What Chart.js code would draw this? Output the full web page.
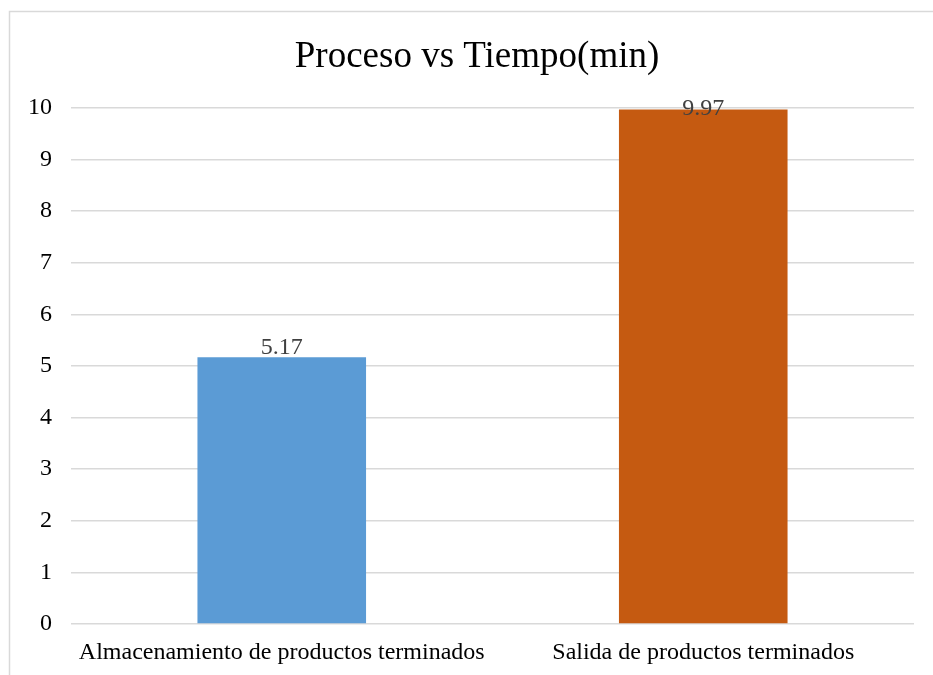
<!DOCTYPE html>
<html>
<head>
<meta charset="utf-8">
<script src="https://cdn.jsdelivr.net/npm/chart.js@4/dist/chart.umd.min.js"></script>
<style>
  html, body { margin: 0; padding: 0; background: #fff; }
  #wrap { width: 933px; height: 675px; }
</style>
</head>
<body>
<div id="wrap"><canvas id="chart" width="933" height="675"></canvas></div>
<script>
var procesos = ['Almacenamiento de productos terminados', 'Salida de productos terminados'];
var tiempos = [5.17, 9.97];
var colores = ['#5B9BD5', '#C55A11'];
var titulo = 'Proceso vs Tiempo(min)';

var fuente = '"Liberation Serif", "Times New Roman", serif';

// marco gris y titulo (el titulo va un poco a la derecha, como en el original)
var marco = {
    id: 'marco',
    beforeDraw: function(chart) {
        var ctx = chart.ctx;
        ctx.save();
        ctx.strokeStyle = '#d9d9d9';
        ctx.lineWidth = 1.5;
        ctx.strokeRect(9.5, 11.5, chart.width + 20, chart.height + 20);
        ctx.font = '37px ' + fuente;
        ctx.fillStyle = '#000';
        ctx.textAlign = 'center';
        ctx.textBaseline = 'middle';
        ctx.fillText(titulo, 477, 57);
        ctx.restore();
    }
};

// etiquetas con el valor encima de cada barra
var etiquetas = {
    id: 'etiquetas',
    afterDatasetsDraw: function(chart) {
        var ctx = chart.ctx;
        var meta = chart.getDatasetMeta(0);
        ctx.save();
        ctx.font = '24px ' + fuente;
        ctx.fillStyle = '#404040';
        ctx.textAlign = 'center';
        ctx.textBaseline = 'alphabetic';
        meta.data.forEach(function(bar, i) {
            var y = Math.max(bar.y - 3, chart.chartArea.top + 7);
            ctx.fillText(tiempos[i].toFixed(2), bar.x, y);
        });
        ctx.restore();
    }
};

var ctx = document.getElementById('chart');
var grafico = new Chart(ctx, {
    type: 'bar',
    data: {
        labels: procesos,
        datasets: [{
            data: tiempos,
            backgroundColor: colores,
            categoryPercentage: 1,
            barPercentage: 0.4
        }]
    },
    options: {
        responsive: false,
        animation: false,
        layout: {
            padding: { top: 108, left: 0, right: 19, bottom: 7.6 }
        },
        plugins: {
            legend: { display: false },
            tooltip: { enabled: false },
            title: { display: false }
        },
        scales: {
            x: {
                grid: { display: false, drawTicks: false },
                border: { display: false },
                ticks: {
                    color: '#000',
                    font: { family: fuente, size: 24 },
                    padding: 14.6,
                    maxRotation: 0
                },
                afterFit: function(scale) { scale.height = 43.4; }
            },
            y: {
                min: 0,
                max: 10,
                grid: { color: '#d9d9d9', lineWidth: 1.5, drawTicks: false },
                border: { display: false },
                ticks: {
                    stepSize: 1,
                    color: '#000',
                    font: { family: fuente, size: 24 },
                    padding: 19
                },
                afterFit: function(scale) { scale.width = 71; }
            }
        }
    },
    plugins: [marco, etiquetas]
});
</script>
</body>
</html>
